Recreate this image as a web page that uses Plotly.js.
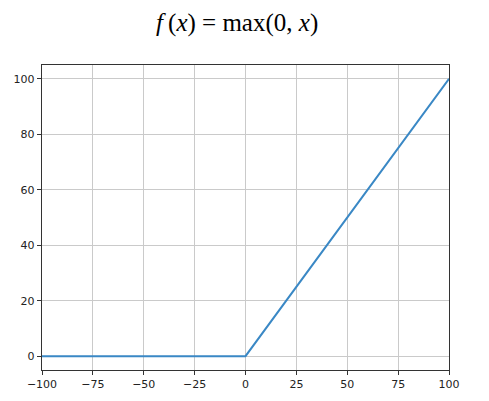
<!DOCTYPE html>
<html>
<head>
<meta charset="utf-8">
<script src="https://cdn.plot.ly/plotly-3.0.1.min.js"></script>
<style>html,body{margin:0;padding:0;background:#fff;}#chart{width:489px;height:401px;}</style>
</head>
<body>
<div id="chart"></div>
<script>
const xValues = [-100, 0, 100];
const yValues = [0, 0, 100];
const xTicks = [-100, -75, -50, -25, 0, 25, 50, 75, 100];
const yTicks = [0, 20, 40, 60, 80, 100];

const axisCommon = {
  showline: true, mirror: true, linecolor: '#333', linewidth: 1.2,
  ticks: 'outside', ticklen: 4, tickcolor: '#333', tickwidth: 1,
  showgrid: true, gridcolor: '#cacaca', gridwidth: 1,
  zeroline: false,
  tickfont: {family: 'DejaVu Sans', size: 11, color: '#222'}
};

Plotly.newPlot('chart', [{
  x: xValues, y: yValues, type: 'scatter', mode: 'lines',
  line: {color: '#3a88c5', width: 2}, hoverinfo: 'skip'
}], {
  width: 489, height: 401,
  margin: {l: 42, r: 40, t: 65, b: 31},
  paper_bgcolor: '#fff', plot_bgcolor: '#fff',
  showlegend: false,
  title: {
    text: '<i>f</i>\u2009(<i>x</i>) = max(0, <i>x</i>)',
    font: {family: 'Liberation Serif', size: 25, color: '#000'},
    x: 0.485, xanchor: 'center', y: 0.945, yanchor: 'middle'
  },
  xaxis: Object.assign({}, axisCommon, {range: [-100, 100], tickvals: xTicks}),
  yaxis: Object.assign({}, axisCommon, {range: [-5, 105], tickvals: yTicks})
}, {staticPlot: true});
</script>
</body>
</html>
